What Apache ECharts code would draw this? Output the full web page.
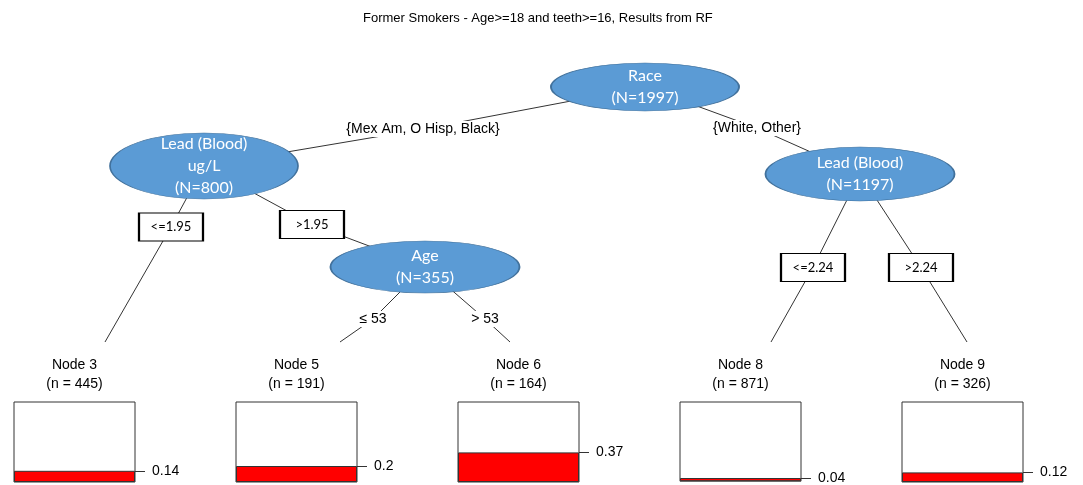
<!DOCTYPE html>
<html>
<head>
<meta charset="utf-8">
<script src="https://cdn.jsdelivr.net/npm/echarts@6/dist/echarts.min.js"></script>
<style>
  html, body { margin: 0; background: #fff; }
  #chart { width: 1083px; height: 485px; }
</style>
</head>
<body>
<div id="chart"></div>
<script>
// tree content
var splitVars = ['Race', 'Lead (Blood)\nug/L', 'Age', 'Lead (Blood)'];
var splitN = [1997, 800, 355, 1197];
var branchLabels = ['{Mex Am, O Hisp, Black}', '{White, Other}', '<=1.95', '>1.95', '\u2264 53', '> 53', '<=2.24', '>2.24'];
var branchFrom = [0, 0, 1, 1, 2, 2, 3, 3];
var branchTo = ['s1', 's3', 'l0', 's2', 'l1', 'l2', 'l3', 'l4'];
var leafNames = ['Node 3', 'Node 5', 'Node 6', 'Node 8', 'Node 9'];
var leafN = [445, 191, 164, 871, 326];
var leafProb = [0.14, 0.2, 0.37, 0.04, 0.12];

// layout (pixel space of the hidden main grid)
var splitPos = [[645, 87], [204, 166], [425, 267], [860, 174]];
var splitSize = [[188, 48], [188, 66], [189, 52], [189, 54]];
var branchPos = [[423, 129], [757, 128], [171, 227], [312, 224.5], [373, 319], [485, 319], [813, 267.5], [921, 267.5]];
var branchBoxed = [false, false, true, true, false, false, true, true];
var leafEnd = [[105, 342], [340, 342], [510, 342], [771, 342], [967, 342]];
var leafLeft = [14, 236, 458, 680, 902];

var chart = echarts.init(document.getElementById('chart'));

var nodes = [];
splitVars.forEach(function (v, i) {
    nodes.push({
        name: 's' + i,
        value: splitPos[i],
        symbol: 'circle',
        symbolSize: splitSize[i],
        itemStyle: { color: '#5b9bd5', borderColor: '#41719c', borderWidth: 1 },
        label: {
            show: true,
            position: 'inside',
            color: '#fff',
            fontFamily: 'Lato',
            fontSize: 16,
            lineHeight: 22,
            formatter: function () { return v + '\n(N=' + splitN[i] + ')'; }
        }
    });
});
branchLabels.forEach(function (t, k) {
    var boxed = branchBoxed[k];
    nodes.push({
        name: 'b' + k,
        value: branchPos[k],
        symbol: 'rect',
        symbolSize: boxed ? [64, 28] : [2, 2],
        itemStyle: boxed
            ? { color: '#fff', borderColor: '#000', borderWidth: 1.5 }
            : { color: 'rgba(255,255,255,0)', borderWidth: 0 },
        label: {
            show: true,
            position: 'inside',
            color: '#000',
            fontFamily: boxed ? 'Lato' : 'Liberation Sans',
            fontSize: boxed ? 13 : 14,
            backgroundColor: boxed ? 'transparent' : '#fff',
            padding: boxed ? 0 : [1, 2],
            formatter: function () { return t; }
        }
    });
});
leafEnd.forEach(function (p, i) {
    nodes.push({ name: 'l' + i, value: p, symbol: 'rect', symbolSize: 1, itemStyle: { color: 'rgba(255,255,255,0)', borderWidth: 0 } });
});

var links = [];
branchLabels.forEach(function (t, k) {
    links.push({ source: 's' + branchFrom[k], target: 'b' + k });
    links.push({ source: 'b' + k, target: branchTo[k] });
});

var grids = [{ left: 0, top: 0, width: 1083, height: 485 }];
var xAxes = [{ type: 'value', min: 0, max: 1083, show: false }];
var yAxes = [{ type: 'value', min: 0, max: 485, inverse: true, show: false }];
var series = [{
    type: 'graph',
    coordinateSystem: 'cartesian2d',
    xAxisIndex: 0,
    yAxisIndex: 0,
    layout: 'none',
    silent: true,
    z: 3,
    data: nodes,
    links: links,
    lineStyle: { color: '#333', width: 1, opacity: 1, curveness: 0 }
}];

leafNames.forEach(function (name, i) {
    var g = i + 1;
    grids.push({
        left: leafLeft[i], top: 402, width: 121, height: 80,
        show: true, borderColor: '#333', borderWidth: 1
    });
    xAxes.push({
        gridIndex: g,
        type: 'category',
        data: [name],
        position: 'top',
        axisLine: { show: false },
        axisTick: { show: false },
        axisLabel: { show: false },
        name: name + '\n(n = ' + leafN[i] + ')',
        nameLocation: 'middle',
        nameGap: 8,
        nameTextStyle: { fontFamily: 'Liberation Sans', fontSize: 14, color: '#000', lineHeight: 19 }
    });
    yAxes.push({
        gridIndex: g,
        type: 'value',
        min: 0,
        max: 1,
        position: 'right',
        axisLine: { show: false },
        splitLine: { show: false },
        axisTick: { show: true, customValues: [leafProb[i]], length: 10, lineStyle: { color: '#333' } },
        axisLabel: {
            customValues: [leafProb[i]],
            margin: 17,
            fontFamily: 'Liberation Sans',
            fontSize: 14,
            color: '#000',
            formatter: function (v) { return String(v); }
        }
    });
    series.push({
        type: 'bar',
        xAxisIndex: g,
        yAxisIndex: g,
        data: [leafProb[i]],
        barWidth: '100%',
        silent: true,
        itemStyle: { color: '#ff0000', borderColor: '#333', borderWidth: 1 }
    });
});

chart.setOption({
    animation: false,
    title: {
        text: 'Former Smokers - Age>=18 and teeth>=16, Results from RF',
        left: 358,
        top: 7,
        textStyle: { fontFamily: 'Liberation Sans', fontSize: 13, fontWeight: 'normal', color: '#000' }
    },
    grid: grids,
    xAxis: xAxes,
    yAxis: yAxes,
    series: series
});
</script>
</body>
</html>
